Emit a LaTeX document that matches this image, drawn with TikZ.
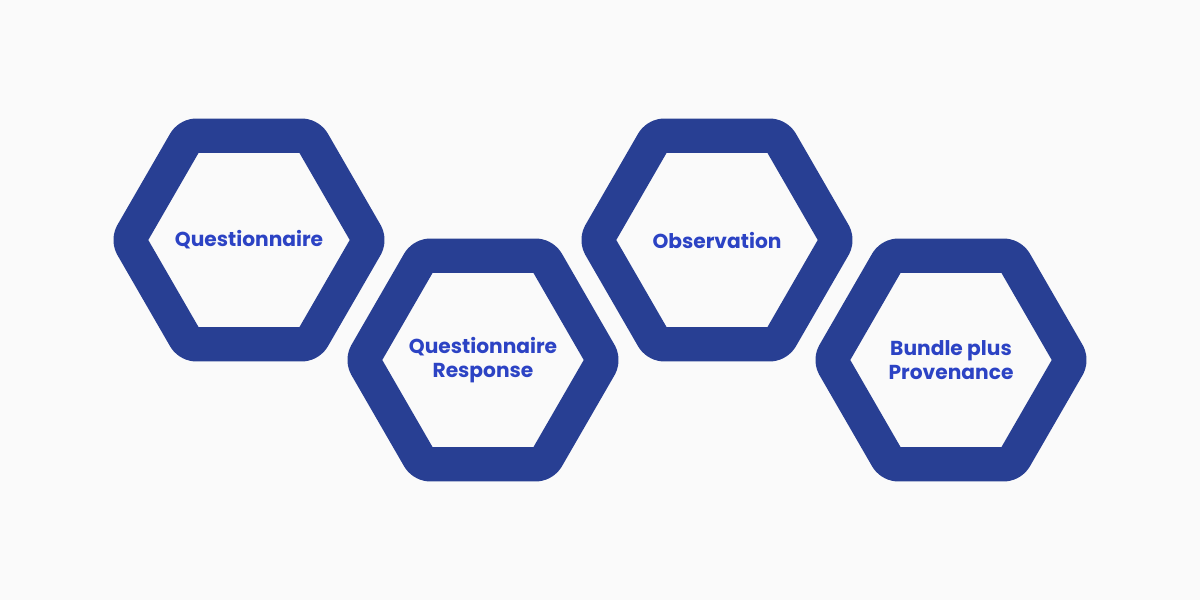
\documentclass[tikz,border=0pt]{standalone}
\usepackage{fontspec}
\setmainfont{Poppins}
\usetikzlibrary{positioning}
\definecolor{hexblue}{HTML}{283F93}
\definecolor{txtblue}{HTML}{2C43C4}
\definecolor{bg}{HTML}{FAFAFA}
\tikzset{
  hexring/.style={draw=hexblue, line width=19.5pt, line join=round, rounded corners=4pt},
  label/.style={text=txtblue, font=\bfseries\fontsize{11.5}{14}\selectfont, align=center}
}
\newcommand{\hexat}[1]{\draw[hexring] (#1)++(0:2.41) -- ++(120:2.41) -- ++(180:2.41) -- ++(240:2.41) -- ++(300:2.41) -- ++(0:2.41) -- cycle;}
\begin{document}
\begin{tikzpicture}
\fill[bg] (0,0) rectangle (24,12);
\useasboundingbox (0,0) rectangle (24,12);
\coordinate (c1) at (4.98,7.2);
\coordinate (c2) at (9.66,4.8);
\coordinate (c3) at (14.34,7.2);
\coordinate (c4) at (19.02,4.8);
\hexat{c1}
\hexat{c2}
\hexat{c3}
\hexat{c4}
\node[label] (quest) at (c1) {Questionnaire};
\node[label] (resp) at (c2) {Questionnaire\\Response};
\node[label] (obs) at (c3) {Observation};
\node[label] (bundle) at (c4) {Bundle plus\\Provenance};
\end{tikzpicture}
\end{document}
